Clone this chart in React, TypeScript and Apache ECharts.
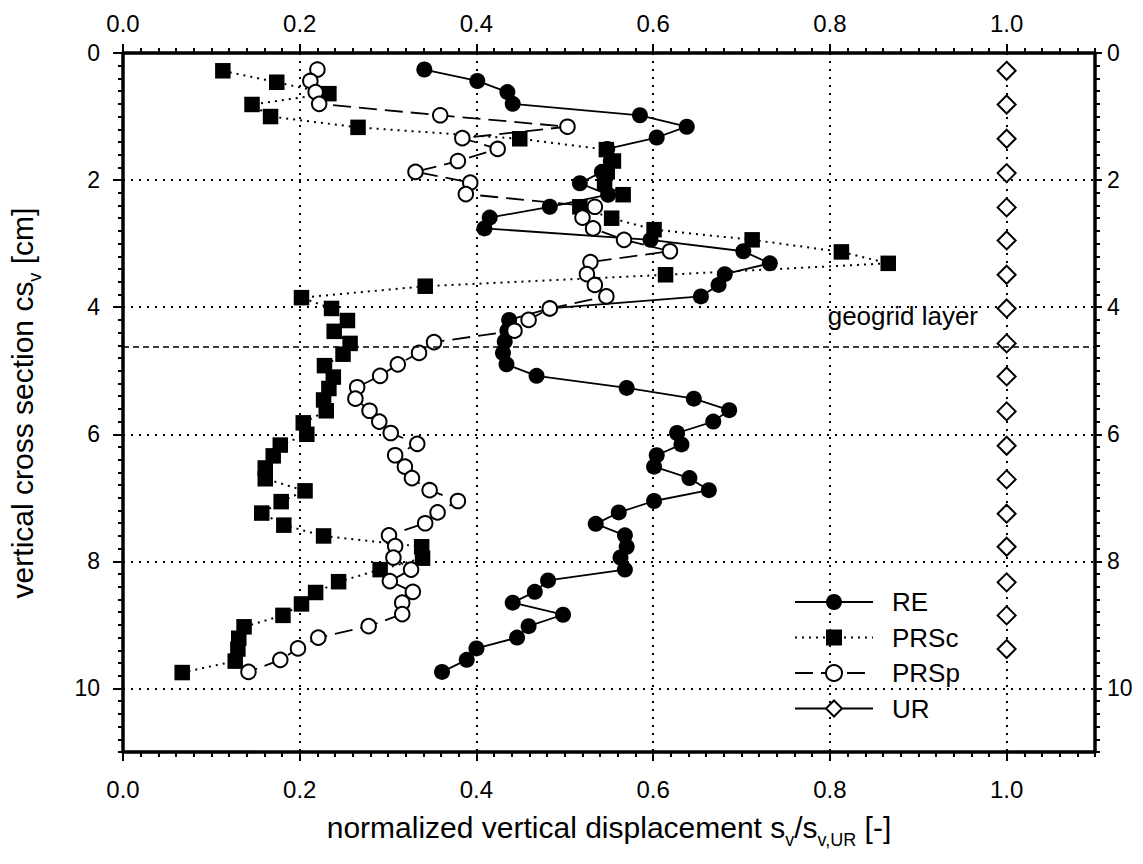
import React, { useEffect, useRef } from 'react';
import * as echarts from 'echarts';

const FONT = '"Liberation Sans", Arial, Helvetica, sans-serif';

// ---- data (x = normalized displacement, y = depth cs_v [cm]) ----
const reDepth = [0.26, 0.44, 0.615, 0.8, 0.98, 1.16, 1.33, 1.51, 1.7, 1.87, 2.05, 2.23, 2.42, 2.59, 2.76, 2.94, 3.12, 3.31, 3.48, 3.65, 3.83, 4.02, 4.2, 4.37, 4.54, 4.72, 4.9, 5.08, 5.27, 5.44, 5.62, 5.8, 5.98, 6.16, 6.33, 6.51, 6.69, 6.88, 7.05, 7.23, 7.41, 7.59, 7.77, 7.94, 8.13, 8.3, 8.48, 8.65, 8.84, 9.02, 9.2, 9.37, 9.55, 9.74];
const reValue = [0.341, 0.401, 0.435, 0.441, 0.585, 0.638, 0.604, 0.548, 0.552, 0.542, 0.517, 0.549, 0.483, 0.415, 0.409, 0.597, 0.702, 0.732, 0.681, 0.674, 0.654, 0.483, 0.437, 0.435, 0.432, 0.43, 0.434, 0.468, 0.57, 0.646, 0.686, 0.668, 0.627, 0.632, 0.604, 0.601, 0.641, 0.663, 0.601, 0.561, 0.535, 0.568, 0.57, 0.563, 0.568, 0.481, 0.466, 0.441, 0.498, 0.459, 0.446, 0.4, 0.389, 0.361];

const prscDepth = [0.28, 0.46, 0.64, 0.81, 1.0, 1.17, 1.35, 1.52, 1.7, 1.87, 2.05, 2.23, 2.42, 2.6, 2.78, 2.94, 3.13, 3.31, 3.49, 3.67, 3.85, 4.02, 4.21, 4.38, 4.57, 4.74, 4.92, 5.1, 5.28, 5.46, 5.63, 5.82, 6.0, 6.17, 6.34, 6.53, 6.7, 6.89, 7.06, 7.24, 7.43, 7.6, 7.77, 7.95, 8.13, 8.32, 8.49, 8.67, 8.85, 9.03, 9.21, 9.38, 9.57, 9.75];
const prscValue = [0.113, 0.174, 0.233, 0.146, 0.167, 0.266, 0.449, 0.547, 0.555, 0.548, 0.545, 0.566, 0.517, 0.553, 0.601, 0.712, 0.813, 0.866, 0.614, 0.342, 0.202, 0.236, 0.254, 0.239, 0.257, 0.249, 0.228, 0.238, 0.233, 0.227, 0.23, 0.204, 0.208, 0.178, 0.17, 0.161, 0.161, 0.206, 0.179, 0.157, 0.182, 0.227, 0.338, 0.339, 0.291, 0.244, 0.218, 0.202, 0.181, 0.137, 0.131, 0.13, 0.127, 0.067];

const prspDepth = [0.26, 0.44, 0.615, 0.8, 0.98, 1.16, 1.34, 1.51, 1.7, 1.87, 2.04, 2.22, 2.42, 2.59, 2.76, 2.94, 3.12, 3.29, 3.48, 3.65, 3.83, 4.02, 4.2, 4.37, 4.55, 4.72, 4.9, 5.08, 5.26, 5.44, 5.63, 5.8, 5.98, 6.15, 6.33, 6.51, 6.69, 6.88, 7.05, 7.23, 7.4, 7.59, 7.76, 7.94, 8.13, 8.31, 8.48, 8.65, 8.83, 9.02, 9.2, 9.37, 9.55, 9.74];
const prspValue = [0.22, 0.212, 0.218, 0.222, 0.359, 0.503, 0.384, 0.424, 0.379, 0.331, 0.393, 0.388, 0.534, 0.52, 0.532, 0.567, 0.619, 0.529, 0.525, 0.534, 0.547, 0.483, 0.459, 0.443, 0.352, 0.335, 0.311, 0.291, 0.265, 0.263, 0.279, 0.29, 0.303, 0.333, 0.308, 0.319, 0.327, 0.347, 0.379, 0.356, 0.342, 0.301, 0.308, 0.306, 0.326, 0.302, 0.328, 0.316, 0.316, 0.278, 0.221, 0.198, 0.178, 0.142];

const urDepth = [0.28, 0.81, 1.35, 1.89, 2.43, 2.95, 3.49, 4.02, 4.57, 5.09, 5.64, 6.18, 6.71, 7.25, 7.77, 8.33, 8.85, 9.38];
const urValue = [1.0, 1.0, 1.0, 1.0, 1.0, 1.0, 1.0, 1.0, 1.0, 1.0, 1.0, 1.0, 1.0, 1.0, 1.0, 1.0, 1.0, 1.0];

const geogridDepth = 4.62;

const seriesNames = ['RE', 'PRSc', 'PRSp', 'UR'];

const X_MIN = 0, X_MAX = 1.1, X_MAJOR = 0.2, X_MINOR = 0.02;
const Y_MIN = 0, Y_MAX = 11, Y_MAJOR = 2, Y_MINOR = 0.2;

const pairs = (xs: number[], ys: number[]) => xs.map((x, i) => [x, ys[i]]);

export default function App() {
  const ref = useRef<HTMLDivElement>(null);

  useEffect(() => {
    const chart = echarts.init(ref.current!, null, { renderer: 'svg' });
    const black = '#000';
    const dotted = [2, 6];
    const axisLine = { show: true, onZero: false, lineStyle: { color: black, width: 3.5 } };

    const xMajor = (position: string, margin: number, split: boolean) => ({
      type: 'value', position, min: X_MIN, max: X_MAX, interval: X_MAJOR,
      axisLine,
      axisTick: { show: true, inside: false, length: 9, lineStyle: { color: black, width: 2 } },
      axisLabel: {
        fontFamily: FONT, fontSize: 24, color: black, margin, showMaxLabel: false,
        formatter: (v: number) => (v > 1.05 ? '' : v.toFixed(1)),
      },
      splitLine: { show: split, lineStyle: { color: black, width: 2, type: dotted } },
    });
    const xMinor = (position: string) => ({
      type: 'value', position, min: X_MIN, max: X_MAX, interval: X_MINOR,
      axisLine: { show: false, onZero: false },
      axisTick: { show: true, inside: false, length: 5, lineStyle: { color: black, width: 2 } },
      axisLabel: { show: false },
      splitLine: { show: false },
    });
    const yMajor = (position: string, margin: number, tickLen: number, split: boolean) => ({
      type: 'value', position, min: Y_MIN, max: Y_MAX, interval: Y_MAJOR, inverse: true,
      axisLine,
      axisTick: { show: true, inside: false, length: tickLen, lineStyle: { color: black, width: 2 } },
      axisLabel: {
        fontFamily: FONT, fontSize: 23, color: black, margin, showMaxLabel: false,
        formatter: (v: number) => (v > 10.5 ? '' : String(v)),
      },
      splitLine: { show: split, lineStyle: { color: black, width: 2, type: dotted } },
    });
    const yMinor = (position: string) => ({
      type: 'value', position, min: Y_MIN, max: Y_MAX, interval: Y_MINOR, inverse: true,
      axisLine: { show: false, onZero: false },
      axisTick: { show: true, inside: false, length: 5, lineStyle: { color: black, width: 2 } },
      axisLabel: { show: false },
      splitLine: { show: false },
    });

    const titleFont = { fontFamily: FONT, fontSize: 30, fill: black };
    const subRich = { sub: { fontFamily: FONT, fontSize: 18, fill: black, padding: [26, 0, 0, 0] } };

    chart.setOption({
      animation: false,
      backgroundColor: '#fff',
      grid: { left: 123, right: 48, top: 53, bottom: 112, containLabel: false, outerBoundsMode: 'none' },
      xAxis: [
        xMajor('bottom', 25, true),
        xMinor('bottom'),
        xMajor('top', 18, false),
        xMinor('top'),
      ],
      yAxis: [
        yMajor('left', 23, 10, true),
        yMinor('left'),
        yMajor('right', 12, 7, false),
        yMinor('right'),
      ],
      legend: {
        orient: 'vertical', left: 794, top: 589, padding: 0,
        itemWidth: 78, itemHeight: 20, itemGap: 9.5,
        selectedMode: false,
        textStyle: { fontFamily: FONT, fontSize: 26, color: black, padding: [0, 0, 0, 14] },
        data: [
          seriesNames[0], seriesNames[1], seriesNames[2],
          { name: seriesNames[3], lineStyle: { opacity: 1, width: 1.8, color: black, type: 'solid' } },
        ],
      },
      series: [
        {
          name: seriesNames[0], type: 'line', xAxisIndex: 0, yAxisIndex: 0,
          data: pairs(reValue, reDepth),
          symbol: 'circle', symbolSize: 16,
          itemStyle: { color: black, borderColor: black, borderWidth: 0 },
          lineStyle: { color: black, width: 1.8, type: 'solid' },
          markLine: {
            silent: true, symbol: 'none', animation: false,
            label: { show: false },
            lineStyle: { color: black, width: 1.5, type: [6, 4] },
            data: [{ yAxis: geogridDepth }],
          },
        },
        {
          name: seriesNames[1], type: 'line', xAxisIndex: 0, yAxisIndex: 0,
          data: pairs(prscValue, prscDepth),
          symbol: 'rect', symbolSize: 15.5,
          itemStyle: { color: black, borderWidth: 0 },
          lineStyle: { color: black, width: 2, type: [2, 5] },
        },
        {
          name: seriesNames[2], type: 'line', xAxisIndex: 0, yAxisIndex: 0,
          data: pairs(prspValue, prspDepth),
          symbol: 'circle', symbolSize: 14.5,
          itemStyle: { color: '#fff', borderColor: black, borderWidth: 2 },
          lineStyle: { color: black, width: 1.8, type: [18, 8] },
        },
        {
          name: seriesNames[3], type: 'line', xAxisIndex: 0, yAxisIndex: 0,
          data: pairs(urValue, urDepth),
          symbol: 'diamond', symbolSize: 18,
          itemStyle: { color: '#fff', borderColor: black, borderWidth: 2 },
          lineStyle: { color: black, width: 0, opacity: 0 },
        },
      ],
      graphic: [
        {
          type: 'text', x: 978, y: 316, silent: true,
          style: {
            text: 'geogrid layer', fontFamily: FONT, fontSize: 26, fill: black,
            align: 'right', verticalAlign: 'middle', textAlign: 'right', textVerticalAlign: 'middle',
          },
        },
        {
          type: 'text', x: 609, y: 827, silent: true,
          style: {
            text: 'normalized vertical displacement s{sub|v}/s{sub|v,UR} [-]',
            ...titleFont, rich: subRich,
            align: 'center', verticalAlign: 'middle', textAlign: 'center', textVerticalAlign: 'middle',
          },
        },
        {
          type: 'text', x: 22, y: 403, rotation: Math.PI / 2, silent: true,
          style: {
            text: 'vertical cross section cs{sub|v} [cm]',
            ...titleFont, rich: subRich,
            align: 'center', verticalAlign: 'middle', textAlign: 'center', textVerticalAlign: 'middle',
          },
        },
      ],
    });

    return () => chart.dispose();
  }, []);

  return (
    <div
      ref={ref}
      style={{ position: 'absolute', left: 0, top: 0, width: 1143, height: 864, background: '#fff' }}
    />
  );
}
